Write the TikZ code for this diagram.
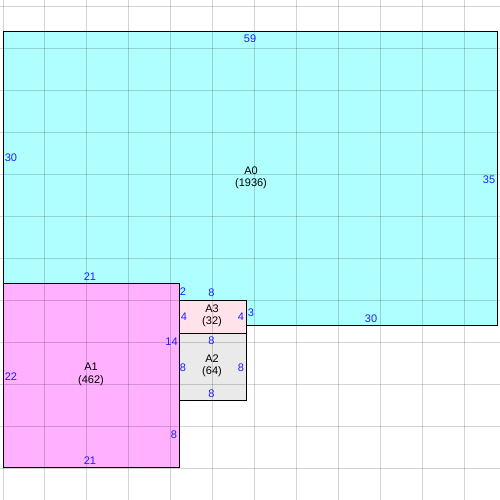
\documentclass[tikz,border=0pt]{standalone}
\usepackage{fontspec}
\setmainfont{Liberation Sans}
\definecolor{cyanfill}{RGB}{176,255,255}
\definecolor{magfill}{RGB}{255,176,255}
\definecolor{pinkfill}{RGB}{255,226,234}
\definecolor{grayfill}{RGB}{234,234,234}
\definecolor{gridcol}{RGB}{211,211,211}
\definecolor{numcol}{RGB}{30,30,255}
\begin{document}
\begin{tikzpicture}[x=1pt,y=-1pt,
  region/.style={draw=black,line width=1pt},
  num/.style={text=numcol,inner sep=0pt,font=\fontsize{11}{12.5}\selectfont},
  regname/.style={text=black,inner sep=0pt,align=center,font=\fontsize{11}{12.5}\selectfont},
  gridline/.style={draw=gridcol,line width=1pt}]
\useasboundingbox (0,0) rectangle (500,500);
\fill[white] (0,0) rectangle (500,500);
% regions (unit = 8.375px, origin at 3,32)
\coordinate (A0nw) at (3,32);      \coordinate (A0se) at (497,325);
\coordinate (A1nw) at (3,283.2);   \coordinate (A1se) at (179,467.3);
\coordinate (A3nw) at (179,300);   \coordinate (A3se) at (246,333.5);
\coordinate (A2nw) at (179,333.5); \coordinate (A2se) at (246,400.5);
\path[region,fill=cyanfill] (A0nw) rectangle (A0se);
\path[region,fill=magfill] (A1nw) rectangle (A1se);
\path[region,fill=pinkfill] (A3nw) rectangle (A3se);
\path[region,fill=grayfill] (A2nw) rectangle (A2se);
% grid on top, multiplied
\begin{scope}[blend mode=multiply]
\foreach \k in {0,...,11}{
  \draw[gridline] ({3+41.94*\k},0) -- ({3+41.94*\k},500);
  \draw[gridline] (0,{6.9+41.94*\k}) -- (500,{6.9+41.94*\k});
}
\end{scope}
% region names
\node[regname] (nA0) at (251,178) {A0\\(1936)};
\node[regname] (nA1) at (91,374.5) {A1\\(462)};
\node[regname] (nA3) at (212,316) {A3\\(32)};
\node[regname] (nA2) at (212,366) {A2\\(64)};
% edge lengths
\node[num] (l59) at (250,38.5) {59};
\node[num] (l30a) at (11,158) {30};
\node[num] (l35) at (489,179.5) {35};
\node[num] (l30b) at (371,319) {30};
\node[num] (l3) at (251,313) {3};
\node[num] (l2) at (183,292) {2};
\node[num] (l21a) at (90,277) {21};
\node[num] (l22) at (11,376.5) {22};
\node[num] (l21b) at (90,461) {21};
\node[num] (l14) at (171.5,342) {14};
\node[num] (l8a) at (174,435) {8};
\node[num] (l8b) at (211.5,293) {8};
\node[num] (l4a) at (184,317) {4};
\node[num] (l4b) at (241,317) {4};
\node[num] (l8c) at (211.5,341) {8};
\node[num] (l8d) at (183,368) {8};
\node[num] (l8e) at (241,368) {8};
\node[num] (l8f) at (211.5,394) {8};
\end{tikzpicture}
\end{document}
